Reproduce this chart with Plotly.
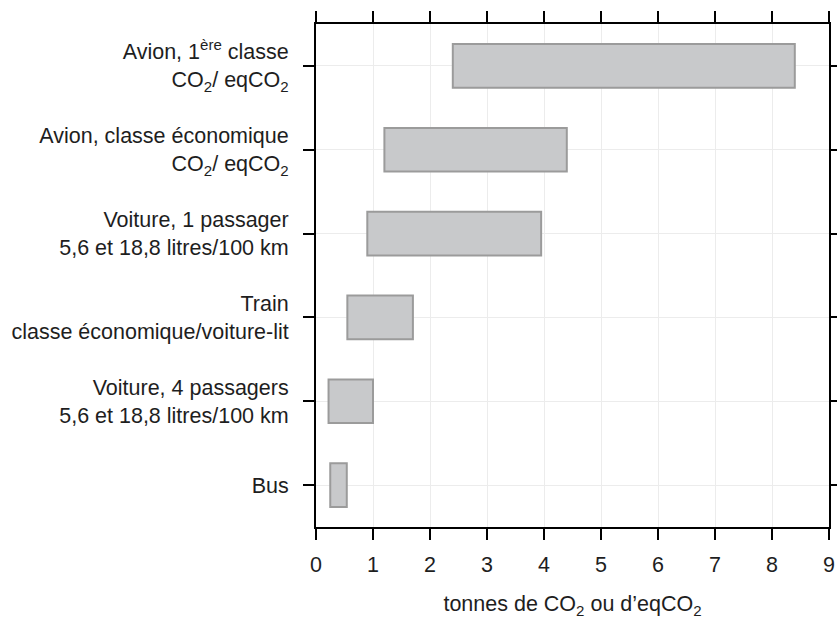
import plotly.graph_objects as go

categories = [
    "Avion, 1<sup>ère</sup> classe<br>CO<sub>2</sub>/ eqCO<sub>2</sub>",
    "Avion, classe économique<br>CO<sub>2</sub>/ eqCO<sub>2</sub>",
    "Voiture, 1 passager<br>5,6 et 18,8 litres/100 km",
    "Train<br>classe économique/voiture-lit",
    "Voiture, 4 passagers<br>5,6 et 18,8 litres/100 km",
    "Bus",
]
low_values = [2.4, 1.2, 0.9, 0.55, 0.22, 0.25]
high_values = [8.4, 4.4, 3.95, 1.7, 1.0, 0.54]
x_ticks = [0, 1, 2, 3, 4, 5, 6, 7, 8, 9]
x_title = "tonnes de CO<sub>2</sub> ou d’eqCO<sub>2</sub>"

lengths = [h - l for h, l in zip(high_values, low_values)]

fig = go.Figure(
    go.Bar(
        y=categories,
        x=lengths,
        base=low_values,
        orientation="h",
        width=0.52,
        marker=dict(color="#c8c9cb", line=dict(color="#9b9b9b", width=2)),
        hoverinfo="skip",
    )
)

font_family = "Liberation Sans, Arial, sans-serif"
fig.update_layout(
    width=837,
    height=619,
    margin=dict(l=316, r=8, t=24, b=92),
    plot_bgcolor="white",
    paper_bgcolor="white",
    font=dict(family=font_family, size=21.5, color="#1e1e1e"),
    showlegend=False,
    xaxis=dict(
        range=[0, 9],
        tickvals=x_ticks,
        ticks="outside",
        ticklen=11,
        tickwidth=2,
        tickcolor="black",
        showline=True,
        linewidth=2,
        linecolor="black",
        mirror="ticks",
        showgrid=True,
        gridcolor="#ececec",
        gridwidth=1,
        zeroline=False,
        automargin=False,
        title=dict(text=x_title, standoff=22, font=dict(size=21.5)),
        ticklabelstandoff=6,
    ),
    yaxis=dict(
        categoryorder="array",
        categoryarray=categories,
        range=[5.5, -0.5],
        ticks="outside",
        ticklen=11,
        tickwidth=2,
        tickcolor="black",
        showline=True,
        linewidth=2,
        linecolor="black",
        mirror="ticks",
        showgrid=True,
        gridcolor="#ececec",
        gridwidth=1,
        zeroline=False,
        automargin=False,
        ticklabelstandoff=10,
    ),
)

fig.write_html(
    "out.html",
    config={"displayModeBar": False},
    post_script="document.body.style.margin='0';document.body.style.overflow='hidden';",
)
